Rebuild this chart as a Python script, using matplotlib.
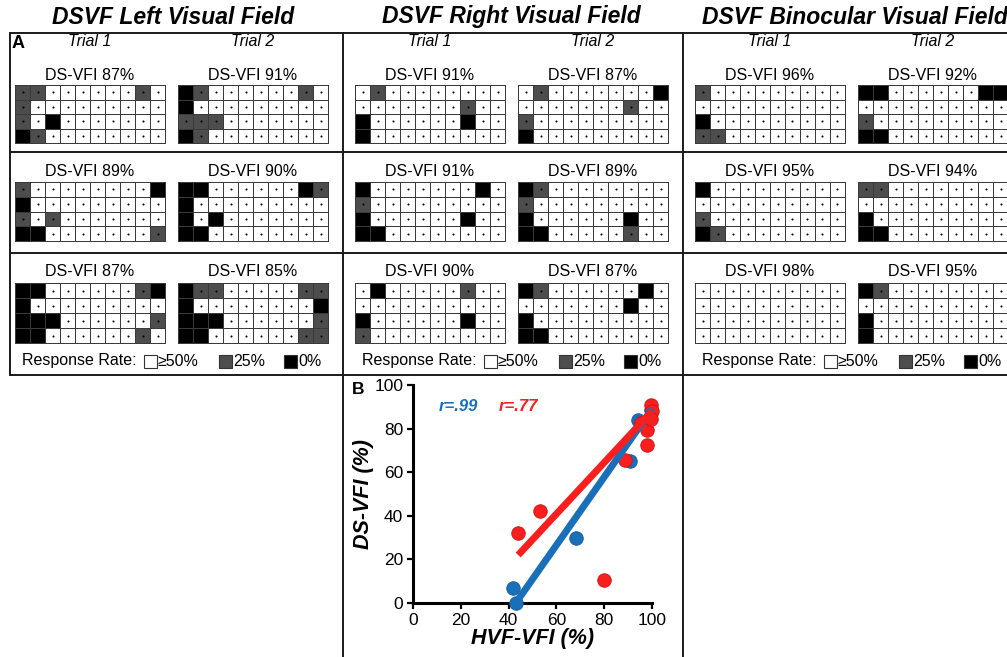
import matplotlib
matplotlib.use('Agg')
import matplotlib.pyplot as plt
from matplotlib.colors import ListedColormap
from matplotlib.patches import Rectangle
from matplotlib import font_manager
import numpy as np

# ---------------- data ----------------
# '.' = response >=50% (white), 'G' = 25% (gray), 'B' = 0% (black)
left_r1_t1 = ["GG......G.", "G.........", "G.B.......", "BG........"]
left_r1_t2 = ["BG......G.", "B.........", "GGG.......", "BG........"]
left_r2_t1 = ["G........B", "B.........", "G.G.......", "BB.......G"]
left_r2_t2 = ["BB......BG", "B.........", "B.B.......", "BB........"]
left_r3_t1 = ["BB......GB", "B.........", "BBB......G", "BB......G."]
left_r3_t2 = ["BGG.....GG", "B........B", "BBB......G", "BB......GG"]

right_r1_t1 = [".G........", ".......G..", "B......B..", "B........."]
right_r1_t2 = [".G.......B", ".......G..", "G.........", "B........."]
right_r2_t1 = ["B.......B.", "G.........", "B......B..", "BB........"]
right_r2_t2 = ["BG........", "G.........", "B......B..", "BB.....G.."]
right_r3_t1 = [".B.....G..", "..........", "B......B..", "G........."]
right_r3_t2 = ["BG......B.", ".......B..", "B.........", "BB........"]

bino_r1_t1 = ["G.........", "..........", "B.........", "GG........"]
bino_r1_t2 = ["BB......BB", "..........", "G.........", "BB........"]
bino_r2_t1 = ["B.........", "..........", "G.........", "BG........"]
bino_r2_t2 = ["GG........", "..........", "B.........", "BB........"]
bino_r3_t1 = ["..........", "..........", "..........", ".........."]
bino_r3_t2 = ["BG........", "..........", "B.........", "B........."]

left_vfi = [[87, 91], [89, 90], [87, 85]]
right_vfi = [[91, 87], [91, 89], [90, 87]]
bino_vfi = [[96, 92], [95, 94], [98, 95]]

panel_titles = ["DSVF Left Visual Field", "DSVF Right Visual Field", "DSVF Binocular Visual Field"]
trial_labels = ["Trial 1", "Trial 2"]
legend_labels = ["\u226550%", "25%", "0%"]

blue_x = [42, 43, 68, 91, 94, 99.5]
blue_y = [7, 0, 30, 65, 84, 88.5]
red_x = [44, 53, 80, 88.5, 95.5, 98, 98, 99.5, 100, 99.5]
red_y = [32, 42, 10.5, 65.5, 82.5, 79.5, 72.5, 91, 88, 84.5]
blue_fit_x = [43, 100]
blue_fit_y = [0, 89]
red_fit_x = [44, 100]
red_fit_y = [22, 88]
blue_r = "r=.99"
red_r = "r=.77"
scatter_ticks = [0, 20, 40, 60, 80, 100]

# ---------------- style ----------------
W, H, DPI = 1007, 657, 100
GRAY = '#4d4d4d'
BLUE = '#1a70b8'
RED = '#fa1e1e'
names = {f.name for f in font_manager.fontManager.ttflist}
NARROW = 'Liberation Sans Narrow' in names
plt.rcParams['font.family'] = ['Liberation Sans', 'DejaVu Sans']

if NARROW:
    title_font = dict(family=['Liberation Sans Narrow', 'Liberation Sans'], size=19.5)
    trial_font = dict(family=['Liberation Sans Narrow', 'Liberation Sans'], size=12.5)
else:
    title_font = dict(family=['Liberation Sans', 'DejaVu Sans'], size=16.5)
    trial_font = dict(family=['Liberation Sans', 'DejaVu Sans'], size=11.5)

fig = plt.figure(figsize=(W / DPI, H / DPI), dpi=DPI)
ov = fig.add_axes([0, 0, 1, 1])
ov.set_xlim(0, W)
ov.set_ylim(H, 0)
ov.axis('off')


def px_axes(x0, y0, w, h):
    return fig.add_axes([x0 / W, 1 - (y0 + h) / H, w / W, h / H])


cmap = ListedColormap(['white', GRAY, 'black'])
code = {'.': 0, 'G': 1, 'B': 2}


def draw_grid(ax, rows):
    M = np.array([[code[c] for c in r] for r in rows])
    mesh = ax.pcolormesh(M, cmap=cmap, vmin=0, vmax=2, edgecolors='#3a3a3a', linewidth=0.65)
    mesh.set_clip_on(False)
    yy, xx = np.nonzero(M < 2)
    ax.scatter(xx + 0.5, yy + 0.5, s=2.2, c='black', linewidths=0, clip_on=False)
    ax.set_xlim(0, M.shape[1])
    ax.set_ylim(M.shape[0], 0)
    ax.axis('off')


grids = [
    [[left_r1_t1, left_r1_t2], [left_r2_t1, left_r2_t2], [left_r3_t1, left_r3_t2]],
    [[right_r1_t1, right_r1_t2], [right_r2_t1, right_r2_t2], [right_r3_t1, right_r3_t2]],
    [[bino_r1_t1, bino_r1_t2], [bino_r2_t1, bino_r2_t2], [bino_r3_t1, bino_r3_t2]],
]
vfis = [left_vfi, right_vfi, bino_vfi]

panel_x0 = [15, 355, 695]
trial_dx = [0, 163]
grid_w = 150
row_top = [85, 182, 283]
row_h = [58, 59, 60]
label_y = [75, 172, 272]
title_cx = [173, 511, 855]

for p in range(3):
    x0 = panel_x0[p]
    ov.text(title_cx[p], 17, panel_titles[p], ha='center', va='center',
            fontweight='bold', fontstyle='italic', **title_font)
    for t in range(2):
        ov.text(x0 + trial_dx[t] + grid_w / 2, 42, trial_labels[t], ha='center', va='center',
                fontstyle='italic', **trial_font)
    for r in range(3):
        for t in range(2):
            gx = x0 + trial_dx[t]
            ax = px_axes(gx, row_top[r], grid_w, row_h[r])
            draw_grid(ax, grids[p][r][t])
            ov.text(gx + grid_w / 2, label_y[r], f"DS-VFI {vfis[p][r][t]}%", ha='center',
                    va='center', fontsize=11.5)
    # legend
    ly = 361
    ov.text(x0 + 7, ly, "Response Rate:", ha='left', va='center', fontsize=11.5)
    for off, fc, lab in zip([129, 204, 269], ['white', GRAY, 'black'], legend_labels):
        ov.add_patch(Rectangle((x0 + off, ly - 6.5), 13, 13, facecolor=fc,
                               edgecolor='#333333', linewidth=0.8))
        ov.text(x0 + off + 14, ly, lab, ha='left', va='center', fontsize=11.5)

# frame lines
lc = '#1a1a1a'
lw = 1.4
for y in [33, 152, 253, 375]:
    ov.plot([10, W + 5], [y, y], color=lc, lw=lw, solid_capstyle='butt')
ov.plot([10, 10], [33, 375], color=lc, lw=lw)
for x in [343, 683]:
    ov.plot([x, x], [33, H + 5], color=lc, lw=lw)

ov.text(12, 43, "A", ha='left', va='center', fontsize=13, fontweight='bold')
ov.text(352, 389, "B", ha='left', va='center', fontsize=12.5, fontweight='bold')

# ---------------- scatter ----------------
sax = px_axes(413, 385, 239, 218)
sax.set_xlim(0, 100)
sax.set_ylim(0, 100)
for s in ['top', 'right']:
    sax.spines[s].set_visible(False)
for s in ['left', 'bottom']:
    sax.spines[s].set_linewidth(2.2)
sax.set_xticks(scatter_ticks)
sax.set_yticks(scatter_ticks)
sax.tick_params(direction='out', length=4, width=1.6, labelsize=12.5, pad=3)
sax.patch.set_alpha(0)

sax.scatter(blue_x, blue_y, s=95, color=BLUE, edgecolor='#145a95', linewidth=0.6,
            clip_on=False, zorder=3)
sax.scatter(red_x, red_y, s=95, color=RED, edgecolor='#d01010', linewidth=0.6,
            clip_on=False, zorder=3)
sax.plot(blue_fit_x, blue_fit_y, color=BLUE, lw=5, solid_capstyle='butt', clip_on=False, zorder=4)
sax.plot(red_fit_x, red_fit_y, color=RED, lw=5, solid_capstyle='butt', clip_on=False, zorder=4)
sax.text(19, 90, blue_r, color=BLUE, ha='center', va='center', fontsize=12,
         fontweight='bold', fontstyle='italic')
sax.text(44, 90, red_r, color=RED, ha='center', va='center', fontsize=12,
         fontweight='bold', fontstyle='italic')
sax.set_xlabel("HVF-VFI (%)", fontsize=15.5, fontweight='bold', fontstyle='italic', labelpad=0)
sax.set_ylabel("DS-VFI (%)", fontsize=15.5, fontweight='bold', fontstyle='italic', labelpad=0)

fig.savefig('out.png', dpi=DPI)
